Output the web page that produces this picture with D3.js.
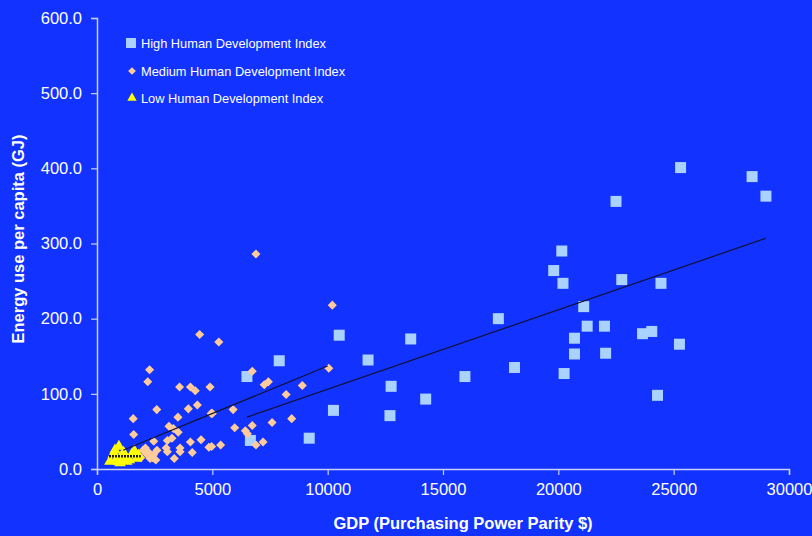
<!DOCTYPE html>
<html><head><meta charset="utf-8">
<script src="https://cdn.jsdelivr.net/npm/d3@7"></script>
<style>
html,body{margin:0;padding:0;background:#1232FF;}
svg{display:block;font-family:"Liberation Sans",Arial,sans-serif;}
</style></head>
<body><svg id="c" width="812" height="536"></svg>
<script>
const xTicks=[0,5000,10000,15000,20000,25000,30000];
const yTicks=[0,100,200,300,400,500,600];
const seriesNames=["High Human Development Index","Medium Human Development Index","Low Human Development Index"];
const highHDI=[[25300,401],[28400,389],[29000,363],[22500,356],[20150,290],[19800,264],[20200,247],[22750,252],[24450,247],[21100,216],[17400,200],[21250,190],[22000,190],[23650,180],[24050,183],[20700,174],[20700,153],[22050,154],[25250,166],[18100,135],[20250,127],[15950,123],[24300,98],[13600,173],[11750,145],[10500,178],[7900,144],[6500,123],[10250,78],[12750,110],[12700,71],[14250,93],[6650,38],[9200,41]];
const mediumHDI=[[4450,179],[2280,132],[2200,116],[3580,109],[4050,109],[4260,104],[4900,109],[2590,79],[3960,80],[4350,85],[4950,74],[1570,67],[3510,69],[1590,46],[3120,57],[3310,54],[3250,41],[3050,38],[3520,49],[2460,37],[4050,36],[4510,39],[3600,28],[3600,23],[3000,28],[3050,23],[4130,22],[4850,29],[3350,14],[5280,169],[6730,130],[7250,112],[7430,116],[8200,99],[8900,111],[10050,134],[5000,74],[5900,79],[5970,55],[6430,51],[6520,47],[6730,58],[7590,62],[8440,67],[6890,32],[7200,36],[5360,32],[4970,30],[6890,286],[10200,218],[2000,25],[2150,20],[2300,14],[2450,19],[2600,25],[1800,18],[2100,28],[2250,22],[2400,15],[2550,12],[1900,15]];
const lowHDI=[[950,30],[700,19],[560,10],[920,10],[1290,10],[1500,19],[1720,14],[1620,24],[780,25],[1100,15],[1150,22],[1000,8],[1400,12],[850,14],[1800,18]];
const trendHigh=[[6500,69],[29000,307]];
const trendMedium=[[1130,25],[10000,137]];
const trendLow=[[520,17],[1900,17]];

const svg=d3.select("#c");
const x=d3.scaleLinear().domain([0,30000]).range([97,789]);
const y=d3.scaleLinear().domain([0,600]).range([469,18]);
const axisCol="#C8D0FF";

const xa=svg.append("g").attr("transform","translate(0,469)")
 .call(d3.axisBottom(x).tickValues(xTicks).tickSize(6).tickPadding(8).tickFormat(d3.format("d")));
const ya=svg.append("g").attr("transform","translate(97,0)")
 .call(d3.axisLeft(y).tickValues(yTicks).tickSize(6).tickPadding(9).tickFormat(d3.format(".1f")));
[xa,ya].forEach(a=>{
 a.select(".domain").attr("stroke",axisCol).attr("stroke-width",1.5);
 a.selectAll(".tick line").attr("stroke",axisCol).attr("stroke-width",1.2);
 a.selectAll(".tick text").attr("fill","#FFFFFF").attr("font-size","16.5px").attr("font-family","Liberation Sans, Arial, sans-serif");
});

const g=svg.append("g");
g.selectAll("rect.h").data(highHDI).enter().append("rect")
 .attr("x",d=>x(d[0])-5.5).attr("y",d=>y(d[1])-5.5).attr("width",11).attr("height",11).attr("fill","#AAD2FF");
const diamond=d3.symbol().type(d3.symbolDiamond2).size(52);
g.selectAll("path.m").data(mediumHDI).enter().append("path")
 .attr("d",diamond).attr("transform",d=>`translate(${x(d[0])},${y(d[1])})`).attr("fill","#FFCC99");
const tri=d3.symbol().type(d3.symbolTriangle).size(58);
g.selectAll("path.l").data(lowHDI).enter().append("path")
 .attr("d",tri).attr("transform",d=>`translate(${x(d[0])},${y(d[1])})`).attr("fill","#FFFF00");

const line=d3.line().x(d=>x(d[0])).y(d=>y(d[1]));
svg.append("path").attr("d",line(trendHigh)).attr("stroke","#111133").attr("stroke-width",1.2).attr("fill","none");
svg.append("path").attr("d",line(trendMedium)).attr("stroke","#111133").attr("stroke-width",1.2).attr("fill","none");
svg.append("path").attr("d",line(trendLow)).attr("stroke","#222200").attr("stroke-width",2.5).attr("stroke-dasharray","2,1").attr("fill","none");

// legend
const lg=svg.append("g");
const ly=[43,71,98];
lg.append("rect").attr("x",126).attr("y",ly[0]-5).attr("width",10).attr("height",10).attr("fill","#AAD2FF");
lg.append("path").attr("d",d3.symbol().type(d3.symbolDiamond2).size(38)).attr("transform",`translate(132,${ly[1]})`).attr("fill","#FFCC99");
lg.append("path").attr("d",d3.symbol().type(d3.symbolTriangle).size(38)).attr("transform",`translate(132,${ly[2]})`).attr("fill","#FFFF00");
seriesNames.forEach((n,i)=>{
 lg.append("text").attr("x",141).attr("y",ly[i]+5).attr("fill","#FFFFFF").attr("font-size","12.8px").text(n);
});

svg.append("text").attr("x",463).attr("y",529).attr("text-anchor","middle").attr("fill","#FFFFFF")
 .attr("font-weight","bold").attr("font-size","16.5px").text("GDP (Purchasing Power Parity $)");
svg.append("text").attr("transform","translate(24,239) rotate(-90)").attr("text-anchor","middle").attr("fill","#FFFFFF")
 .attr("font-weight","bold").attr("font-size","16.5px").text("Energy use per capita (GJ)");
</script></body></html>
